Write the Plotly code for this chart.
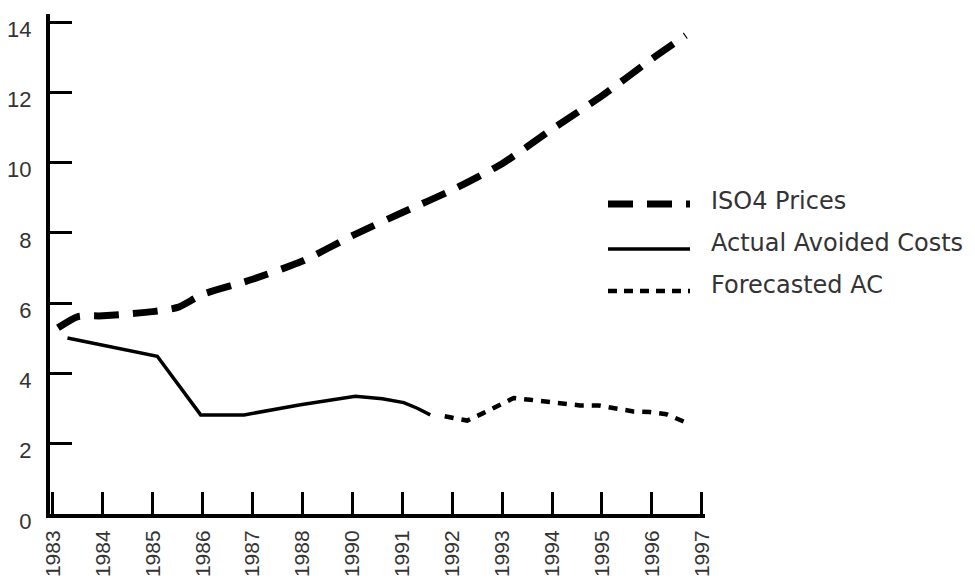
import plotly.graph_objects as go

# Category axis (note: 1989 is absent on the original axis)
years = ["1983", "1984", "1985", "1986", "1987", "1988", "1990",
         "1991", "1992", "1993", "1994", "1995", "1996", "1997"]
year_pos = list(range(len(years)))  # 0 = 1983, 1 = 1984, ..., 6 = 1990, ...

y_ticks = [0, 2, 4, 6, 8, 10, 12, 14]

# ISO4 Prices (positions along the category axis)
iso4_pos = [0.10, 0.50, 1.00, 2.00, 2.50, 3.00, 4.00, 5.00, 6.00, 7.00,
            8.00, 9.00, 10.00, 11.00, 12.00, 12.68]
iso4_val = [5.30, 5.62, 5.64, 5.76, 5.88, 6.25, 6.68, 7.20, 7.92, 8.58,
            9.22, 9.97, 10.95, 11.90, 12.95, 13.62]

# Actual Avoided Costs
actual_pos = [0.29, 2.09, 2.96, 3.83, 4.96, 5.56, 6.06, 6.60, 7.03, 7.30, 7.56]
actual_val = [5.01, 4.49, 2.82, 2.82, 3.11, 3.23, 3.35, 3.28, 3.17, 3.01, 2.82]

# Forecasted AC
fc_pos = [7.85, 8.30, 8.59, 8.89, 9.23, 9.56, 9.89, 10.23, 10.56, 10.93,
          11.26, 11.63, 11.96, 12.29, 12.66]
fc_val = [2.78, 2.66, 2.85, 3.06, 3.30, 3.25, 3.20, 3.13, 3.09, 3.09,
          3.01, 2.92, 2.90, 2.84, 2.62]

series_names = ["ISO4 Prices", "Actual Avoided Costs", "Forecasted AC"]

INK = "#000000"
TXT = "#333333"
FONT = "DejaVu Sans"
TICKFONT = "Liberation Sans"

fig = go.Figure()
fig.add_trace(go.Scatter(x=iso4_pos, y=iso4_val, mode="lines", name=series_names[0],
                         line=dict(color=INK, width=7, dash="25px,14px", shape="spline", smoothing=0.6),
                         showlegend=False, hoverinfo="skip"))
fig.add_trace(go.Scatter(x=actual_pos, y=actual_val, mode="lines", name=series_names[1],
                         line=dict(color=INK, width=3.5), showlegend=False, hoverinfo="skip"))
fig.add_trace(go.Scatter(x=fc_pos, y=fc_val, mode="lines", name=series_names[2],
                         line=dict(color=INK, width=4.5, dash="9px,8px"),
                         showlegend=False, hoverinfo="skip"))

# Plot-area geometry (pixels) to place the hand-drawn legend
L, R, T, B = 50, 270, 14, 66
W, H = 975, 580
PW, PH = W - L - R, H - T - B


def px(xp):
    return (xp - L) / PW


def py(yp):
    return (H - B - yp) / PH


legend_rows = [
    (series_names[0], dict(color=INK, width=7, dash="25px,14px"), 204, 201),
    (series_names[1], dict(color=INK, width=3.5), 249, 243),
    (series_names[2], dict(color=INK, width=4.5, dash="9px,7px"), 291, 285),
]
shapes = []
annotations = []
for name, ln, ly, ty in legend_rows:
    shapes.append(dict(type="line", xref="paper", yref="paper",
                       x0=px(608), x1=px(690), y0=py(ly), y1=py(ly), line=ln))
    annotations.append(dict(xref="paper", yref="paper", x=px(709), y=py(ty),
                            text=name, showarrow=False, xanchor="left", yanchor="middle",
                            font=dict(family=FONT, size=24, color=TXT)))

fig.update_layout(
    template="none",
    width=W, height=H,
    margin=dict(l=L, r=R, t=T, b=B, pad=0, autoexpand=False),
    paper_bgcolor="white", plot_bgcolor="white",
    shapes=shapes, annotations=annotations,
    showlegend=False,
)
fig.update_xaxes(
    automargin=False,
    range=[-0.06, 13.066], tickmode="array", tickvals=year_pos, ticktext=years,
    tickangle=-90, ticks="inside", ticklen=22, tickwidth=2.5, tickcolor=INK,
    showline=True, linecolor=INK, linewidth=4, showgrid=False, zeroline=False,
    tickfont=dict(family=TICKFONT, size=21, color=TXT), ticklabelstandoff=4,
)
fig.update_yaxes(
    automargin=False,
    range=[0, 14.23], tickmode="array", tickvals=y_ticks,
    ticks="inside", ticklen=22, tickwidth=2.5, tickcolor=INK,
    showline=True, linecolor=INK, linewidth=4, showgrid=False, zeroline=False,
    tickfont=dict(family=TICKFONT, size=22, color=TXT), ticklabelstandoff=10,
    ticklabelshift=7,
)

fig.write_html(
    "out.html",
    config={"displayModeBar": False},
    post_script="document.body.style.margin='0';document.body.style.overflow='hidden';",
)
